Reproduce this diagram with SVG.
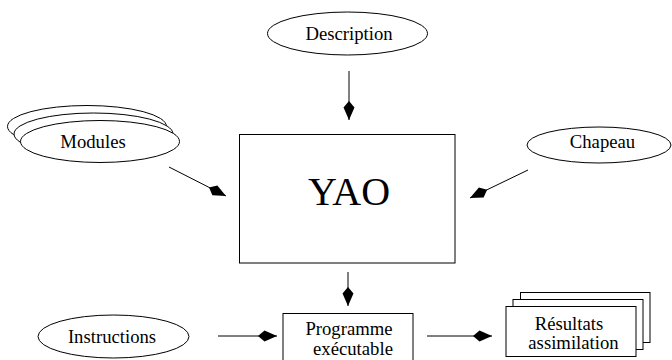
<svg xmlns="http://www.w3.org/2000/svg" width="672" height="360" viewBox="0 0 672 360">
<style>
.s{fill:#fff;stroke:#000;stroke-width:1}
.t{font-family:"Liberation Serif","Times New Roman",serif;font-size:18.7px;fill:#000;text-anchor:middle}
.c{stroke:#000;stroke-width:1;fill:none;marker-end:url(#kite)}
</style>
<defs>
<marker id="kite" markerUnits="userSpaceOnUse" markerWidth="22" markerHeight="14" refX="19" refY="6" orient="auto" viewBox="0 0 22 14">
<path d="M0,6 L6.5,0.5 L19,6 L6.5,11.5 Z" fill="#000"/>
</marker>
</defs>
<rect width="672" height="360" fill="#fff"/>
<g id="connectors">
<line class="c" x1="349" y1="71" x2="349" y2="120"/>
<line class="c" x1="169" y1="167" x2="226" y2="196"/>
<line class="c" x1="528" y1="170" x2="470" y2="198"/>
<line class="c" x1="348" y1="272" x2="348" y2="306"/>
<line class="c" x1="218" y1="336" x2="277" y2="336"/>
<line class="c" x1="427" y1="336" x2="492" y2="336"/>
</g>
<g id="description">
<ellipse class="s" cx="347.5" cy="33.5" rx="80" ry="21.5"/>
<text class="t" x="349" y="40">Description</text>
</g>
<g id="modules">
<ellipse class="s" cx="87" cy="126.5" rx="79.5" ry="21"/>
<ellipse class="s" cx="93.5" cy="134" rx="79.5" ry="21"/>
<ellipse class="s" cx="100" cy="141.5" rx="79.5" ry="21"/>
<text class="t" x="93" y="148">Modules</text>
</g>
<g id="yao">
<rect class="s" x="239.5" y="134.5" width="215.5" height="128.5"/>
<text class="t" x="349" y="205" style="font-size:40px">YAO</text>
</g>
<g id="chapeau">
<ellipse class="s" cx="599" cy="145" rx="72" ry="18"/>
<text class="t" x="602.5" y="148">Chapeau</text>
</g>
<g id="instructions">
<ellipse class="s" cx="113.5" cy="336.5" rx="75.5" ry="21.5"/>
<text class="t" x="112" y="343">Instructions</text>
</g>
<g id="programme">
<rect class="s" x="283" y="313.5" width="130" height="50"/>
<text class="t" x="349" y="335">Programme</text>
<text class="t" x="353" y="355">exécutable</text>
</g>
<g id="resultats">
<rect class="s" x="520.5" y="292.5" width="129.5" height="50"/>
<rect class="s" x="513" y="299.5" width="130" height="50"/>
<rect class="s" x="506" y="306.5" width="130" height="50"/>
<text class="t" x="569" y="330">Résultats</text>
<text class="t" x="573.5" y="349">assimilation</text>
</g>
</svg>
